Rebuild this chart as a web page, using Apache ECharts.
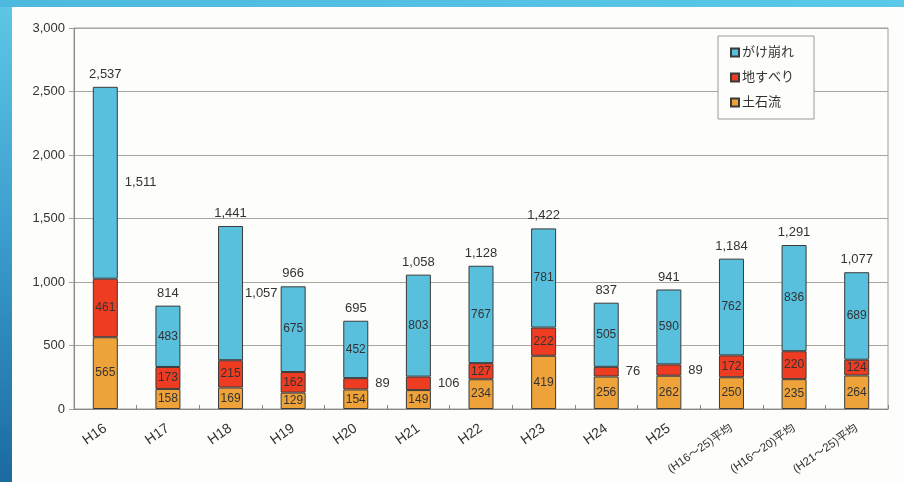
<!DOCTYPE html>
<html>
<head>
<meta charset="utf-8">
<script src="https://cdn.jsdelivr.net/npm/echarts@6/dist/echarts.min.js"></script>
<style>
  html, body { margin: 0; padding: 0; width: 904px; height: 482px; overflow: hidden; }
  #frame { position: absolute; left: 0; top: 0; width: 904px; height: 482px;
    background: linear-gradient(180deg, #5ec8e6 0%, #3a9ccc 50%, #1b6aa0 100%); }
  #topbar { position: absolute; left: 0; top: 0; width: 904px; height: 7px;
    background: linear-gradient(90deg, #4db9df 0%, #5ac8e8 100%); }
  #chart { position: absolute; left: 12px; top: 7px; width: 892px; height: 475px; background: #fdfdfb; }
</style>
</head>
<body>
<div id="frame"></div>
<div id="topbar"></div>
<div id="chart"></div>
<script>
// Sediment disaster counts by type, fiscal years H16–H25 plus period averages
const categories = ['H16', 'H17', 'H18', 'H19', 'H20', 'H21', 'H22', 'H23', 'H24', 'H25',
  '(H16～25)平均', '(H16～20)平均', '(H21～25)平均'];
const debrisFlow = [565, 158, 169, 129, 154, 149, 234, 419, 256, 262, 250, 235, 264];   // 土石流
const landslide  = [461, 173, 215, 162, 89, 106, 127, 222, 76, 89, 172, 220, 124];      // 地すべり
const slopeFail  = [1511, 483, 1057, 675, 452, 803, 767, 781, 505, 590, 762, 836, 689]; // がけ崩れ
const totals     = [2537, 814, 1441, 966, 695, 1058, 1128, 1422, 837, 941, 1184, 1291, 1077];
const yTicks = [0, 500, 1000, 1500, 2000, 2500, 3000];

// Segment labels drawn beside the bar (category -> gap in px)
const slopeOutside = { 'H16': 7, 'H18': 2 };
const slideOutside = { 'H20': 7, 'H21': 7, 'H24': 7, 'H25': 7 };

const fmt = v => v.toLocaleString('en-US');
const txt = '#333';
const font = '"Liberation Sans", Arial, "Noto Sans CJK JP", sans-serif';

function seriesData(values, outside) {
  return values.map((v, i) => {
    const item = { value: v };
    const gap = outside[categories[i]];
    if (gap !== undefined) {
      item.label = { position: 'right', distance: gap, fontSize: 13 };
    }
    return item;
  });
}

const chart = echarts.init(document.getElementById('chart'));
const barBase = { type: 'bar', stack: 'all', barWidth: 25,
  itemStyle: { borderColor: '#3a3a3a', borderWidth: 1 } };

chart.setOption({
  animation: false,
  textStyle: { fontFamily: font },
  grid: { left: 62, right: 16, top: 21, bottom: 73, show: true,
    borderColor: '#a09f98', borderWidth: 1, backgroundColor: 'transparent' },
  legend: {
    data: ['がけ崩れ', '地すべり', '土石流'],
    orient: 'vertical', left: 706, top: 29,
    padding: [10, 20, 10, 12], itemGap: 12,
    itemWidth: 8, itemHeight: 8, icon: 'rect',
    borderColor: '#9a9a9a', borderWidth: 1, backgroundColor: '#fdfdfb',
    textStyle: { color: txt, fontSize: 13, fontFamily: font, padding: [0, 0, 0, -2] }
  },
  xAxis: {
    type: 'category', data: categories,
    axisLine: { lineStyle: { color: '#8a8a84' } },
    axisTick: { show: true, inside: true, length: 4, lineStyle: { color: '#8a8a84' } },
    axisLabel: {
      rotate: 35, color: txt, fontSize: 14, margin: 18,
      formatter: v => v.length > 4 ? '{s|' + v + '}' : v,
      rich: { s: { fontSize: 11.5, color: txt } }
    }
  },
  yAxis: {
    type: 'value', min: 0, max: 3000, interval: 500,
    axisLine: { show: true, lineStyle: { color: '#8a8a84' } },
    axisTick: { show: true, length: 5, lineStyle: { color: '#a09f98' } },
    splitLine: { lineStyle: { color: '#a8a79e' } },
    axisLabel: { color: txt, fontSize: 13, margin: 9,
      formatter: v => yTicks.includes(v) ? fmt(v) : '' }
  },
  series: [
    Object.assign({}, barBase, {
      name: '土石流', data: seriesData(debrisFlow, {}),
      itemStyle: Object.assign({}, barBase.itemStyle, { color: '#eea23a' }),
      label: { show: true, position: 'inside', color: txt, fontSize: 12 }
    }),
    Object.assign({}, barBase, {
      name: '地すべり', data: seriesData(landslide, slideOutside),
      itemStyle: Object.assign({}, barBase.itemStyle, { color: '#ee3c22' }),
      label: { show: true, position: 'inside', color: txt, fontSize: 12 }
    }),
    Object.assign({}, barBase, {
      name: 'がけ崩れ', data: seriesData(slopeFail, slopeOutside),
      itemStyle: Object.assign({}, barBase.itemStyle, { color: '#58c0dc' }),
      label: { show: true, position: 'inside', color: txt, fontSize: 12,
        formatter: p => fmt(p.value) }
    }),
    {
      name: '合計', type: 'bar', stack: 'all', barWidth: 25,
      data: totals.map(() => 0),
      itemStyle: { color: 'transparent' },
      label: { show: true, position: 'top', distance: 6, color: txt, fontSize: 13,
        formatter: p => fmt(totals[p.dataIndex]) }
    }
  ]
});
</script>
</body>
</html>
